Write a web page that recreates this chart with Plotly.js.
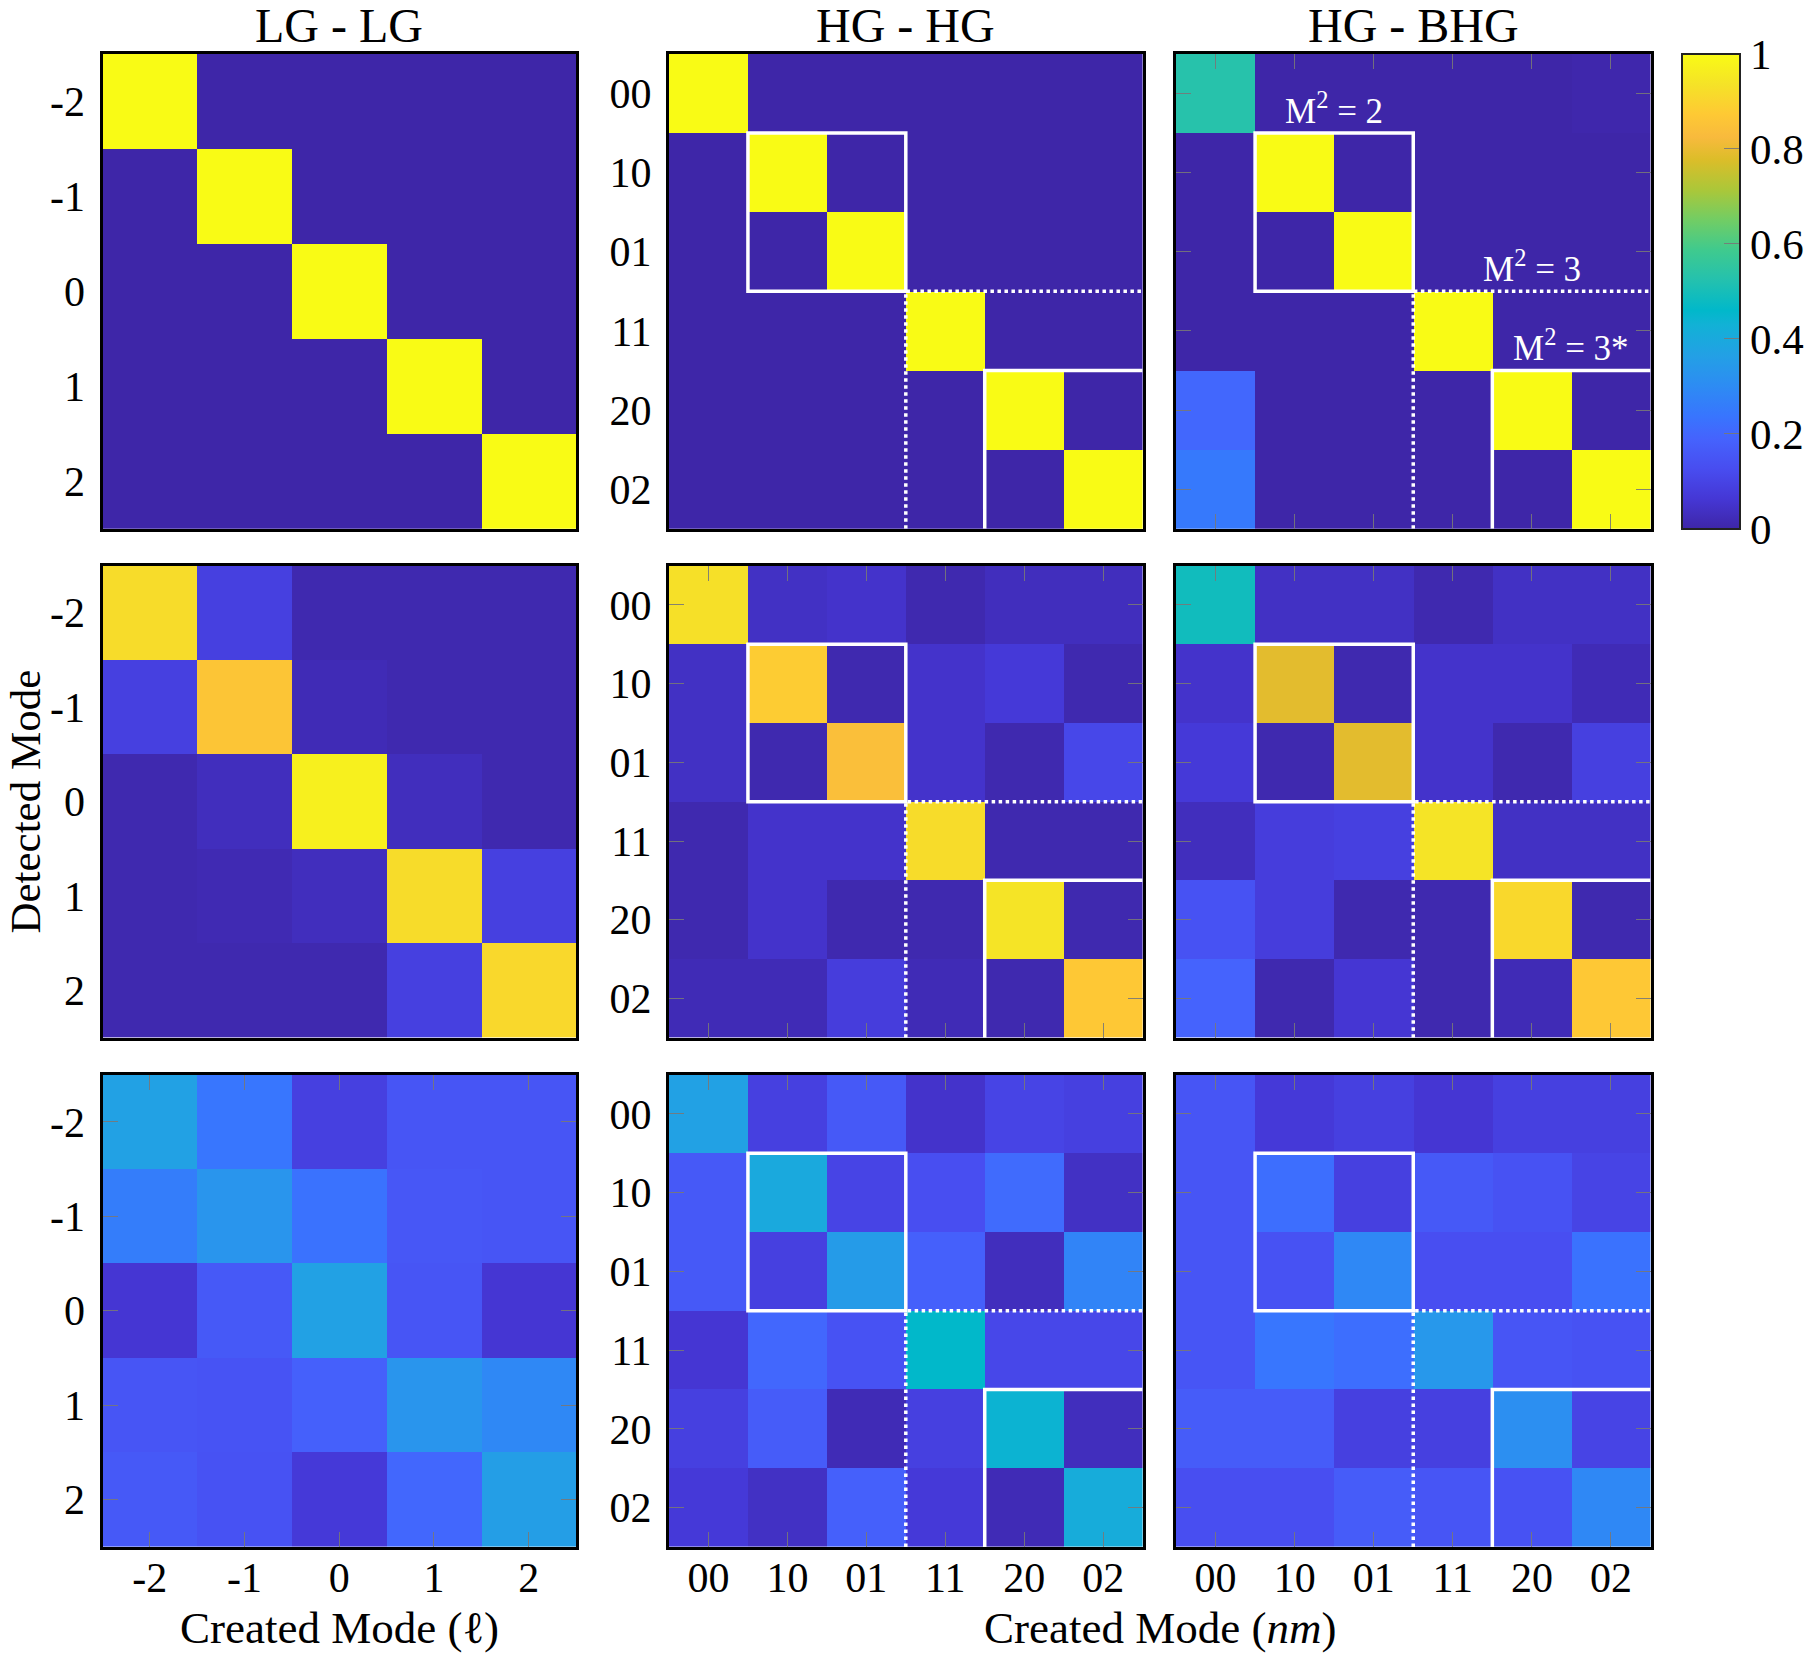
<!DOCTYPE html>
<html>
<head>
<meta charset="utf-8">
<script src="https://cdn.plot.ly/plotly-3.0.1.min.js"></script>
<style>body{margin:0;background:#fff}</style>
</head>
<body>
<div id="chart" style="width:1806px;height:1653px"></div>
<script>
// mode labels
const lgModes=['-2','-1','0','1','2']
const hgModes=['00','10','01','11','20','02']
const colTitles=['LG - LG','HG - HG','HG - BHG']
const cbTicks=[0,0.2,0.4,0.6,0.8,1]
const cbLabels=['0','0.2','0.4','0.6','0.8','1']

// rows = detected mode, columns = created mode
const lgTop=[
 [1,0,0,0,0],
 [0,1,0,0,0],
 [0,0,1,0,0],
 [0,0,0,1,0],
 [0,0,0,0,1]]
const hgTop=[
 [1,0,0,0,0,0],
 [0,1,0,0,0,0],
 [0,0,1,0,0,0],
 [0,0,0,1,0,0],
 [0,0,0,0,1,0],
 [0,0,0,0,0,1]]
const bhgTop=[
 [0.53,0,0,0,0,0.005],
 [0,1,0,0,0,0],
 [0,0,1,0,0,0],
 [0,0,0,1,0,0],
 [0.2,0,0,0,1,0],
 [0.25,0,0,0,0,1]]
const lgMid=[
 [0.92,0.09,0.01,0.01,0.01],
 [0.09,0.86,0.02,0.01,0.01],
 [0.01,0.03,0.97,0.03,0.01],
 [0.01,0.015,0.03,0.92,0.09],
 [0.01,0.01,0.01,0.09,0.91]]
const hgMid=[
 [0.93,0.04,0.05,0.01,0.03,0.03],
 [0.04,0.88,0.01,0.05,0.07,0.01],
 [0.04,0.01,0.84,0.05,0.01,0.11],
 [0.01,0.05,0.05,0.92,0.01,0.01],
 [0.01,0.05,0.01,0.01,0.94,0.01],
 [0.02,0.02,0.08,0.02,0.01,0.87]]
const bhgMid=[
 [0.49,0.04,0.04,0.01,0.04,0.04],
 [0.05,0.79,0.01,0.05,0.05,0.02],
 [0.07,0.01,0.79,0.05,0.01,0.09],
 [0.03,0.08,0.09,0.94,0.04,0.04],
 [0.14,0.08,0.01,0.01,0.91,0.01],
 [0.19,0.01,0.06,0.01,0.02,0.87]]
const lgBot=[
 [0.37,0.24,0.09,0.15,0.15],
 [0.26,0.33,0.23,0.155,0.15],
 [0.06,0.16,0.37,0.15,0.06],
 [0.15,0.145,0.18,0.33,0.29],
 [0.16,0.14,0.07,0.2,0.36]]
const hgBot=[
 [0.37,0.09,0.16,0.05,0.1,0.09],
 [0.16,0.4,0.1,0.13,0.21,0.04],
 [0.16,0.09,0.35,0.18,0.03,0.28],
 [0.06,0.2,0.14,0.46,0.11,0.11],
 [0.09,0.17,0.02,0.09,0.44,0.03],
 [0.07,0.04,0.18,0.07,0.02,0.41]]
const bhgBot=[
 [0.15,0.07,0.09,0.06,0.09,0.09],
 [0.15,0.22,0.09,0.16,0.14,0.1],
 [0.15,0.14,0.29,0.13,0.13,0.23],
 [0.15,0.24,0.22,0.34,0.15,0.14],
 [0.17,0.17,0.09,0.09,0.31,0.1],
 [0.13,0.13,0.17,0.15,0.14,0.29]]

// parula
const parula=[
 [0,'rgb(62,38,168)'],[0.0635,'rgb(69,55,213)'],[0.127,'rgb(72,77,240)'],
 [0.19,'rgb(69,99,253)'],[0.238,'rgb(56,117,254)'],[0.302,'rgb(45,140,243)'],
 [0.365,'rgb(35,160,229)'],[0.429,'rgb(18,177,214)'],[0.46,'rgb(1,184,202)'],
 [0.524,'rgb(36,193,174)'],[0.587,'rgb(63,202,142)'],[0.651,'rgb(114,205,100)'],
 [0.714,'rgb(171,199,57)'],[0.778,'rgb(220,189,41)'],[0.825,'rgb(248,186,61)'],
 [0.873,'rgb(254,201,52)'],[0.937,'rgb(245,227,39)'],[1,'rgb(249,251,21)']]

const W=1806,H=1653
const FONT='Liberation Serif, DejaVu Serif, serif'
const colPx=[[102.5,576],[669,1142.6],[1176,1650.5]]
const rowPx=[[54,528.7],[565.5,1037.8],[1074.6,1546.9]]
const cbPx=[1681.6,1740]
const panels=[
 [lgTop,hgTop,bhgTop],
 [lgMid,hgMid,bhgMid],
 [lgBot,hgBot,bhgBot]]
// panels whose inner ticks are drawn in the original
const withTicks=[[false,false,true],[false,true,true],[true,true,true]]
const tickGray='rgba(120,120,120,0.9)'

let data=[],shapes=[],annotations=[]
let layout={
 width:W,height:H,
 margin:{l:0,r:0,t:0,b:0,autoexpand:false},
 paper_bgcolor:'white',plot_bgcolor:'white',
 showlegend:false,
 font:{family:FONT,size:42,color:'black'},
 coloraxis:{
  cmin:0,cmax:1,colorscale:parula,
  colorbar:{
   x:cbPx[0]/W,xanchor:'left',
   y:1-(rowPx[0][0]+rowPx[0][1])/2/H,yanchor:'middle',
   len:rowPx[0][1]-rowPx[0][0],lenmode:'pixels',
   thickness:cbPx[1]-cbPx[0],thicknessmode:'pixels',
   xpad:0,ypad:0,
   outlinewidth:2,outlinecolor:'#222',
   tickvals:cbTicks,ticktext:cbLabels,
   ticks:'inside',ticklen:17,tickcolor:tickGray,tickwidth:1,
   tickfont:{family:FONT,size:43,color:'black'}
  }
 }
}

panels.forEach((row,r)=>{
 row.forEach((z,c)=>{
  let k=r*3+c+1
  let xa=k==1?'x':'x'+k, ya=k==1?'y':'y'+k
  let modes=c==0?lgModes:hgModes
  let n=modes.length
  let idx=modes.map((_,i)=>i)
  data.push({
   type:'heatmap',z:z,x:idx,y:idx,
   coloraxis:'coloraxis',xaxis:xa,yaxis:ya,
   hoverinfo:'skip',xgap:0,ygap:0
  })
  let t=withTicks[r][c]
  let common={
   showline:true,linecolor:'black',linewidth:3,mirror:t?'ticks':true,
   ticks:t?'inside':'',ticklen:15,tickwidth:1,tickcolor:tickGray,
   showgrid:false,zeroline:false,fixedrange:true,automargin:false,
   tickvals:idx,ticktext:modes,
   tickfont:{family:FONT,size:42,color:'black'}
  }
  layout['xaxis'+(k==1?'':k)]=Object.assign({},common,{
   domain:[colPx[c][0]/W,colPx[c][1]/W],
   range:[-0.5,n-0.5],anchor:ya,
   showticklabels:r==2,ticklabelstandoff:-8
  })
  layout['yaxis'+(k==1?'':k)]=Object.assign({},common,{
   domain:[1-rowPx[r][1]/H,1-rowPx[r][0]/H],
   range:[n-0.5,-0.5],anchor:xa,
   showticklabels:c<2,ticklabelstandoff:6
  })
  // mode group boxes on the HG panels
  if(c>0){
   let ln={color:'white',width:3.5}
   shapes.push({type:'rect',xref:xa,yref:ya,x0:0.5,x1:2.5,y0:0.5,y1:2.5,line:ln,layer:'above'})
   shapes.push({type:'path',xref:xa,yref:ya,path:'M 2.5 5.5 L 2.5 2.5 L 5.5 2.5',line:{color:'white',width:3.5,dash:'dot'},layer:'above'})
   shapes.push({type:'path',xref:xa,yref:ya,path:'M 3.5 5.5 L 3.5 3.5 L 5.5 3.5',line:ln,layer:'above'})
  }
 })
})

// colorbar ticks on the left edge as well
cbTicks.forEach(v=>{
 let yp=rowPx[0][1]-v*(rowPx[0][1]-rowPx[0][0])
 if(v>0&&v<1){
  shapes.push({type:'line',xref:'paper',yref:'paper',x0:(cbPx[0]+1)/W,x1:(cbPx[0]+18)/W,
   y0:1-yp/H,y1:1-yp/H,line:{color:tickGray,width:1},layer:'above'})
 }
})

// column titles
colTitles.forEach((s,c)=>{
 annotations.push({xref:'paper',yref:'paper',x:(colPx[c][0]+colPx[c][1])/2/W,y:1-25/H,
  text:s,showarrow:false,xanchor:'center',yanchor:'middle',font:{family:FONT,size:48,color:'black'}})
})
// M^2 labels on the top HG-BHG panel
let mLabels=[['M<sup>2</sup> = 2',1.5,0.5],['M<sup>2</sup> = 3',4.0,2.5],['M<sup>2</sup> = 3*',4.5,3.5]]
mLabels.forEach(m=>{
 annotations.push({xref:'x3',yref:'y3',x:m[1],y:m[2],text:m[0],showarrow:false,
  xanchor:'center',yanchor:'bottom',yshift:0,font:{family:FONT,size:35,color:'white'}})
})
// axis titles
annotations.push({xref:'paper',yref:'paper',x:(colPx[0][0]+colPx[0][1])/2/W,y:1-1628/H,
 text:'Created Mode (ℓ)',showarrow:false,xanchor:'center',yanchor:'middle',font:{family:FONT,size:45}})
annotations.push({xref:'paper',yref:'paper',x:1160/W,y:1-1628/H,
 text:'Created Mode (<i>nm</i>)',showarrow:false,xanchor:'center',yanchor:'middle',font:{family:FONT,size:45}})
annotations.push({xref:'paper',yref:'paper',x:26/W,y:1-801.6/H,textangle:-90,
 text:'Detected Mode',showarrow:false,xanchor:'center',yanchor:'middle',font:{family:FONT,size:43}})

layout.shapes=shapes
layout.annotations=annotations

Plotly.newPlot('chart',data,layout,{displayModeBar:false,staticPlot:true})
</script>
</body>
</html>
